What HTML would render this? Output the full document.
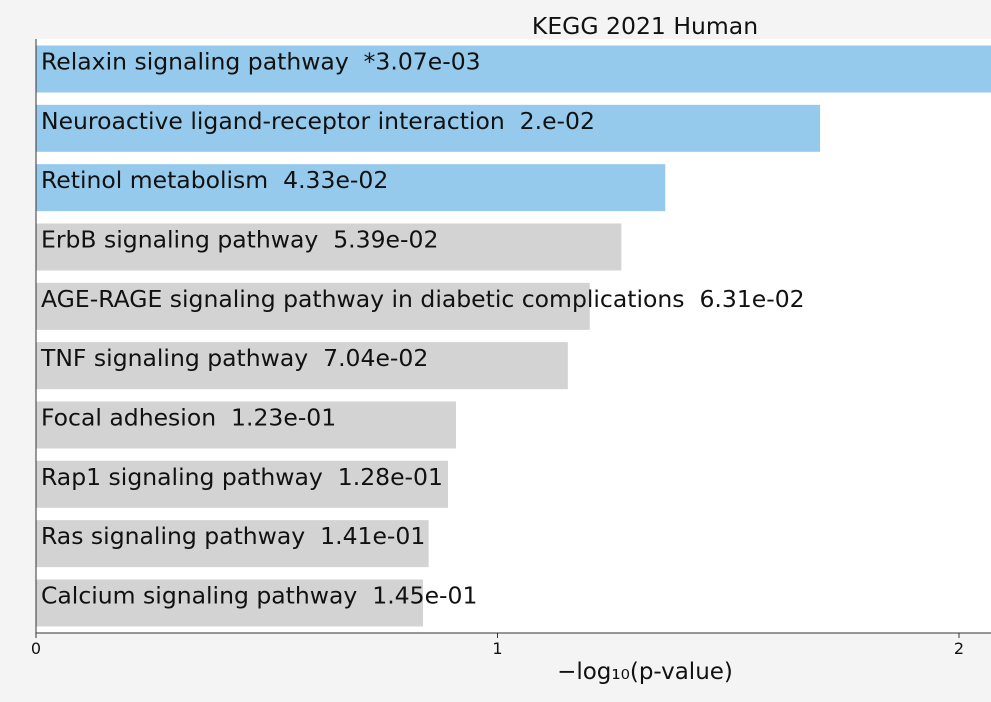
<!DOCTYPE html>
<html><head><meta charset="utf-8"><style>
body{margin:0;background:#f4f4f4;width:991px;height:698px;overflow:hidden;font-family:"DejaVu Sans","Liberation Sans",sans-serif}
text{white-space:pre}
</style></head><body>
<svg id="chart" width="991" height="698" xmlns="http://www.w3.org/2000/svg" style="font-family:'DejaVu Sans','Liberation Sans',sans-serif">
<rect x="36" y="39" width="960" height="594" fill="#ffffff"/>
<g id="bars"></g>
<line x1="36" y1="39" x2="36" y2="633" stroke="#333" stroke-width="1"/>
<line x1="36" y1="633" x2="991" y2="633" stroke="#333" stroke-width="1"/>
<g id="ticks"></g>
<text x="645" y="34" font-size="23.5" text-anchor="middle" fill="#111">KEGG 2021 Human</text>
<text x="645" y="679" font-size="23" text-anchor="middle" fill="#111">−log₁₀(p-value)</text>
</svg>
<script>
const terms = ["Relaxin signaling pathway","Neuroactive ligand-receptor interaction","Retinol metabolism","ErbB signaling pathway","AGE-RAGE signaling pathway in diabetic complications","TNF signaling pathway","Focal adhesion","Rap1 signaling pathway","Ras signaling pathway","Calcium signaling pathway"];
const pvalues = [3.07e-3, 2.0e-2, 4.33e-2, 5.39e-2, 6.31e-2, 7.04e-2, 1.23e-1, 1.28e-1, 1.41e-1, 1.45e-1];
const pLabels = ["*3.07e-03","2.e-02","4.33e-02","5.39e-02","6.31e-02","7.04e-02","1.23e-01","1.28e-01","1.41e-01","1.45e-01"];
const xTicks = [0,1,2];
const xTickLabels = ["0","1","2"];
const NS="http://www.w3.org/2000/svg";
const x = v => 36 + v*461.5;
const rowY = i => 69 + i*59.33;
const bh = 47;
const gb = document.getElementById('bars');
terms.forEach((t,i)=>{
  const v = -Math.log10(pvalues[i]);
  const r = document.createElementNS(NS,'rect');
  
  
  r.setAttribute('x',x(0)); r.setAttribute('y',rowY(i)-bh/2);
  r.setAttribute('width',x(v)-x(0)); r.setAttribute('height',bh);
  r.setAttribute('fill', pvalues[i]<0.05 ? '#95caec' : '#d3d3d3');
  gb.appendChild(r);
  const tx = document.createElementNS(NS,'text');
  
  
  tx.setAttribute('x',41); tx.setAttribute('y',rowY(i)-6);
  tx.setAttribute('font-size','23.5'); tx.setAttribute('fill','#111');
  tx.setAttribute('dominant-baseline','middle');
  tx.textContent = t + '  ' + pLabels[i];
  gb.appendChild(tx);
});
const gt = document.getElementById('ticks');
xTicks.forEach((v,i)=>{
  const l = document.createElementNS(NS,'line');
  
  
  l.setAttribute('x1',x(v)); l.setAttribute('x2',x(v));
  l.setAttribute('y1',633); l.setAttribute('y2',638);
  l.setAttribute('stroke','#333');
  gt.appendChild(l);
  const tl = document.createElementNS(NS,'text');
  
  
  tl.setAttribute('x',x(v)); tl.setAttribute('y',654);
  tl.setAttribute('font-size','16'); tl.setAttribute('text-anchor','middle'); tl.setAttribute('fill','#111');
  tl.textContent = xTickLabels[i];
  gt.appendChild(tl);
});
</script>
</body></html>
